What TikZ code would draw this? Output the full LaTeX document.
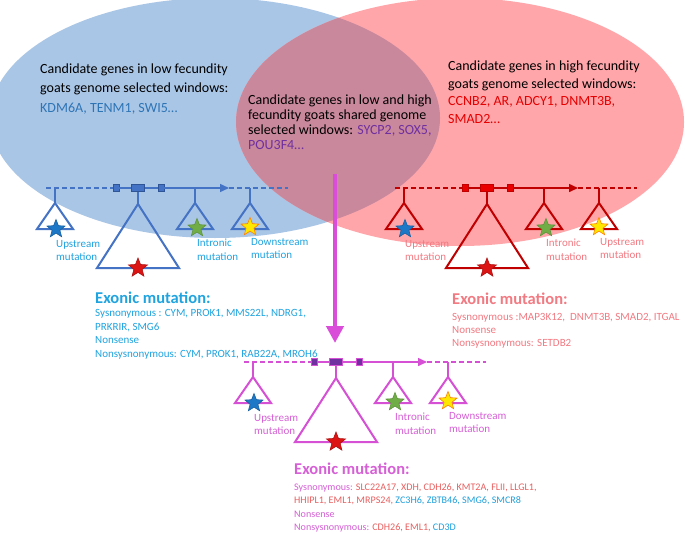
\documentclass[tikz,border=0pt]{standalone}
\usepackage{fontspec}
\setmainfont{Carlito}
\usetikzlibrary{shapes.geometric,arrows.meta}
\definecolor{ellblue}{RGB}{170,198,230}
\definecolor{ellpink}{RGB}{255,166,170}
\definecolor{ellmix}{RGB}{201,136,156}
\definecolor{lblue}{RGB}{68,114,196}
\definecolor{lbluedk}{RGB}{47,85,151}
\definecolor{lred}{RGB}{192,0,0}
\definecolor{lredbox}{RGB}{235,0,0}
\definecolor{lmag}{RGB}{214,80,214}
\definecolor{lpurple}{RGB}{112,48,160}
\definecolor{tsky}{RGB}{32,164,224}
\definecolor{tpink}{RGB}{242,122,130}
\definecolor{tmag}{RGB}{214,96,214}
\definecolor{gred}{RGB}{232,96,96}
\definecolor{gblue}{RGB}{32,160,220}
\definecolor{topblue}{RGB}{46,117,182}
\definecolor{topred}{RGB}{230,0,0}
\definecolor{toppurple}{RGB}{112,48,160}
\definecolor{sblue}{RGB}{30,120,200}
\definecolor{sred}{RGB}{220,20,20}
\definecolor{sgreen}{RGB}{112,173,71}
\definecolor{syellow}{RGB}{255,232,0}
\definecolor{bigmag}{RGB}{217,77,217}
\tikzset{
  genebox/.style={rectangle, inner sep=0pt, minimum height=7pt, line width=0.8pt},
  gline/.style={line width=1.5pt},
  gdash/.style={line width=1.5pt, dash pattern=on 5pt off 3pt},
  tri/.style={line width=2pt, line join=miter},
  gstar/.style={star, star points=5, star point ratio=2.3, minimum size=19pt, inner sep=0pt, line width=0.6pt},
  mlabel/.style={anchor=north west, inner sep=0pt, align=left, font=\fontsize{11}{13.5}\selectfont},
  toptext/.style={anchor=north west, inner sep=0pt, align=left},
  extitle/.style={anchor=base west, inner sep=0pt, font=\fontsize{16.5}{18}\selectfont\bfseries},
  exlines/.style={anchor=north west, inner sep=0pt, align=left},
}
% #1 prefix, #2 x, #3 y, #4 line colour, #5 box fill, #6 box border, #7 label colour, #8 third label word
\newcommand\genestructure[8]{%
\begin{scope}[shift={(#2,#3)}]
 \node[genebox, fill=#5, draw=#6, minimum width=6pt] (#1b1) at (-22,0) {};
 \node[genebox, fill=#5, draw=#6, minimum width=13pt] (#1b2) at (0,0) {};
 \node[genebox, fill=#5, draw=#6, minimum width=6pt] (#1b3) at (23,0) {};
 \coordinate (#1s) at (-92,0);
 \coordinate (#1a) at (91,0);
 \coordinate (#1e) at (150,0);
 \coordinate (#1u) at (-83,0);
 \coordinate (#1i) at (57,0);
 \coordinate (#1d) at (112,0);
 \coordinate (#1ut) at (-83,15);
 \coordinate (#1bt) at (0,16);
 \coordinate (#1it) at (57,15);
 \coordinate (#1dt) at (112,15);
 \draw[gdash, draw=#4] (#1s) -- (#1b1.west);
 \draw[gline, draw=#4] (#1b1.east) -- (#1b2.west);
 \draw[gline, draw=#4] (#1b2.east) -- (#1b3.west);
 \draw[gline, draw=#4, -{Triangle[length=9pt,width=8pt]}] (#1b3.east) -- (#1a);
 \draw[gdash, draw=#4] (#1a) -- (#1e);
 \draw[gline, draw=#4] (#1u) -- (#1ut);
 \draw[gline, draw=#4] (#1b2.south) -- (#1bt);
 \draw[gline, draw=#4] (#1i) -- (#1it);
 \draw[gline, draw=#4] (#1d) -- (#1dt);
 \draw[tri, draw=#4] (#1ut) -- ++(-18,26) -- ++(36,0) -- cycle;
 \draw[tri, draw=#4] (#1bt) -- ++(-41,64) -- ++(82,0) -- cycle;
 \draw[tri, draw=#4] (#1it) -- ++(-18,26) -- ++(36,0) -- cycle;
 \draw[tri, draw=#4] (#1dt) -- ++(-18,26) -- ++(36,0) -- cycle;
 \node[gstar, fill=sblue, draw=sblue!80!black] (#1us) at (-82,41) {};
 \node[gstar, fill=sred, draw=sred!80!black, minimum size=20pt] (#1bs) at (0,80) {};
 \node[gstar, fill=sgreen, draw=sgreen!85!black] (#1is) at (59,40) {};
 \node[gstar, fill=syellow, draw=orange] (#1ds) at (112,39) {};
 \node[mlabel, text=#7] (#1ul) at (-82,52) {Upstream\\mutation};
 \node[mlabel, text=#7] (#1il) at (59,51) {Intronic\\mutation};
 \node[mlabel, text=#7] (#1dl) at (113,50) {#8\\mutation};
\end{scope}}
\begin{document}
\begin{tikzpicture}[x=1pt,y=-1pt]
\useasboundingbox (0,0) rectangle (685,533);
\fill[white] (0,0) rectangle (685,533);
% ellipses
\fill[ellblue] (215,118) ellipse [x radius=225, y radius=120];
\fill[ellpink] (460,122) ellipse [x radius=224, y radius=124];
\begin{scope}
 \clip (215,118) ellipse [x radius=225, y radius=120];
 \fill[ellmix] (460,122) ellipse [x radius=224, y radius=124];
\end{scope}
% top texts
\node[toptext, font=\fontsize{14}{19.5}\selectfont] (lowtxt) at (40,63.5)
 {Candidate genes in low fecundity\\goats genome selected windows:\\\textcolor{topblue}{KDM6A, TENM1, SWI5…}};
\node[toptext, font=\fontsize{14}{17.5}\selectfont] (hightxt) at (448,61)
 {Candidate genes in high fecundity\\goats genome selected windows:\\\textcolor{topred}{CCNB2, AR, ADCY1, DNMT3B,}\\\textcolor{topred}{SMAD2…}};
\node[toptext, font=\fontsize{14}{15}\selectfont] (sharedtxt) at (248,94.5)
 {Candidate genes in low and high\\fecundity goats shared genome\\selected windows: \textcolor{toppurple}{SYCP2, SOX5,}\\\textcolor{toppurple}{POU3F4…}};
% gene structures
\genestructure{L}{138}{188}{lblue}{lblue}{lbluedk}{tsky}{Downstream}
\genestructure{R}{487}{188}{lred}{lredbox}{lred}{tpink}{Upstream}
\genestructure{B}{336}{362}{lmag}{lpurple}{lmag}{tmag}{Downstream}
% big arrow
\coordinate (arrS) at (335,174);
\coordinate (arrE) at (335,343);
\draw[bigmag, line width=4.5pt, -{Triangle[length=17pt,width=17pt]}] (arrS) -- (arrE);
% exonic texts
\node[extitle, text=tsky] (Lex) at (95,303) {Exonic mutation:};
\node[exlines, text=tsky, font=\fontsize{11}{13.5}\selectfont] (Lexl) at (95,309.5)
 {Sysnonymous : CYM, PROK1, MMS22L, NDRG1,\\PRKRIR, SMG6\\Nonsense\\Nonsysnonymous: CYM, PROK1, RAB22A, MROH6};
\node[extitle, text=tpink] (Rex) at (452,304) {Exonic mutation:};
\node[exlines, text=tpink, font=\fontsize{11}{13}\selectfont] (Rexl) at (452,313)
 {Sysnonymous :MAP3K12,\ \ DNMT3B, SMAD2, ITGAL\\Nonsense\\Nonsysnonymous: SETDB2};
\node[extitle, text=tmag] (Bex) at (294,474) {Exonic mutation:};
\node[exlines, text=tmag, font=\fontsize{10.1}{13.5}\selectfont] (Bexl) at (294,483)
 {Sysnonymous: \textcolor{gred}{SLC22A17, XDH, CDH26, KMT2A, FLII, LLGL1,}\\
  \textcolor{gred}{HHIPL1, EML1, MRPS24, }\textcolor{gblue}{ZC3H6, ZBTB46, SMG6, SMCR8}\\
  Nonsense\\
  Nonsysnonymous: \textcolor{gred}{CDH26, EML1, }\textcolor{gblue}{CD3D}};
\end{tikzpicture}
\end{document}
